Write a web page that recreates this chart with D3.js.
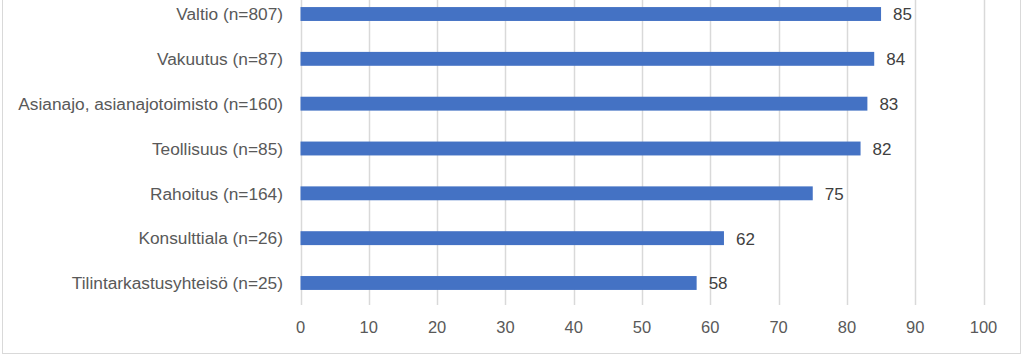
<!DOCTYPE html>
<html><head><meta charset="utf-8">
<script src="https://cdn.jsdelivr.net/npm/d3@7"></script>
<style>body{margin:0;background:#fff}svg{display:block}</style>
</head><body>
<script>
const categories = ["Valtio (n=807)","Vakuutus (n=87)","Asianajo, asianajotoimisto (n=160)","Teollisuus (n=85)","Rahoitus (n=164)","Konsulttiala (n=26)","Tilintarkastusyhteisö (n=25)"];
const values = [85,84,83,82,75,62,58];
const xTicks = [0,10,20,30,40,50,60,70,80,90,100];

const W=1023,H=356;
const svg=d3.select("body").append("svg").attr("width",W).attr("height",H);
svg.append("rect").attr("x",2.5).attr("y",-5).attr("width",1018).attr("height",358.5)
  .attr("fill","#fff").attr("stroke","#d9d9d9").attr("stroke-width",1);
const x=d3.scaleLinear().domain([0,100]).range([300.5,983.5]);
const y=d3.scaleBand().domain(categories).range([-8.4,305.4]).paddingInner(0.69).paddingOuter(0.345);
const font="'Liberation Sans', Arial, sans-serif";
svg.append("g").selectAll("line").data(xTicks).join("line")
  .attr("x1",d=>Math.round(x(d))+0.5).attr("x2",d=>Math.round(x(d))+0.5).attr("y1",0).attr("y2",305)
  .attr("stroke","#d9d9d9").attr("stroke-width",1.5);
svg.append("g").selectAll("rect").data(values).join("rect")
  .attr("x",x(0)).attr("y",(d,i)=>y(categories[i])).attr("height",y.bandwidth())
  .attr("width",d=>x(d)-x(0)).attr("fill","#4472C4");
svg.append("g").selectAll("text").data(values).join("text")
  .attr("x",d=>x(d)+12).attr("y",(d,i)=>y(categories[i])+y.bandwidth()/2).attr("dy","0.38em")
  .attr("font-family",font).attr("font-size",17).attr("fill","#404040").text(d=>d);
svg.append("g").selectAll("text").data(categories).join("text")
  .attr("x",283).attr("y",d=>y(d)+y.bandwidth()/2).attr("dy","0.36em").attr("text-anchor","end")
  .attr("font-family",font).attr("font-size",17.3).attr("fill","#595959").text(d=>d);
svg.append("g").selectAll("text").data(xTicks).join("text")
  .attr("x",d=>x(d)).attr("y",327).attr("dy","0.36em").attr("text-anchor","middle")
  .attr("font-family",font).attr("font-size",16.5).attr("fill","#595959").text(d=>d);
</script>
</body></html>
